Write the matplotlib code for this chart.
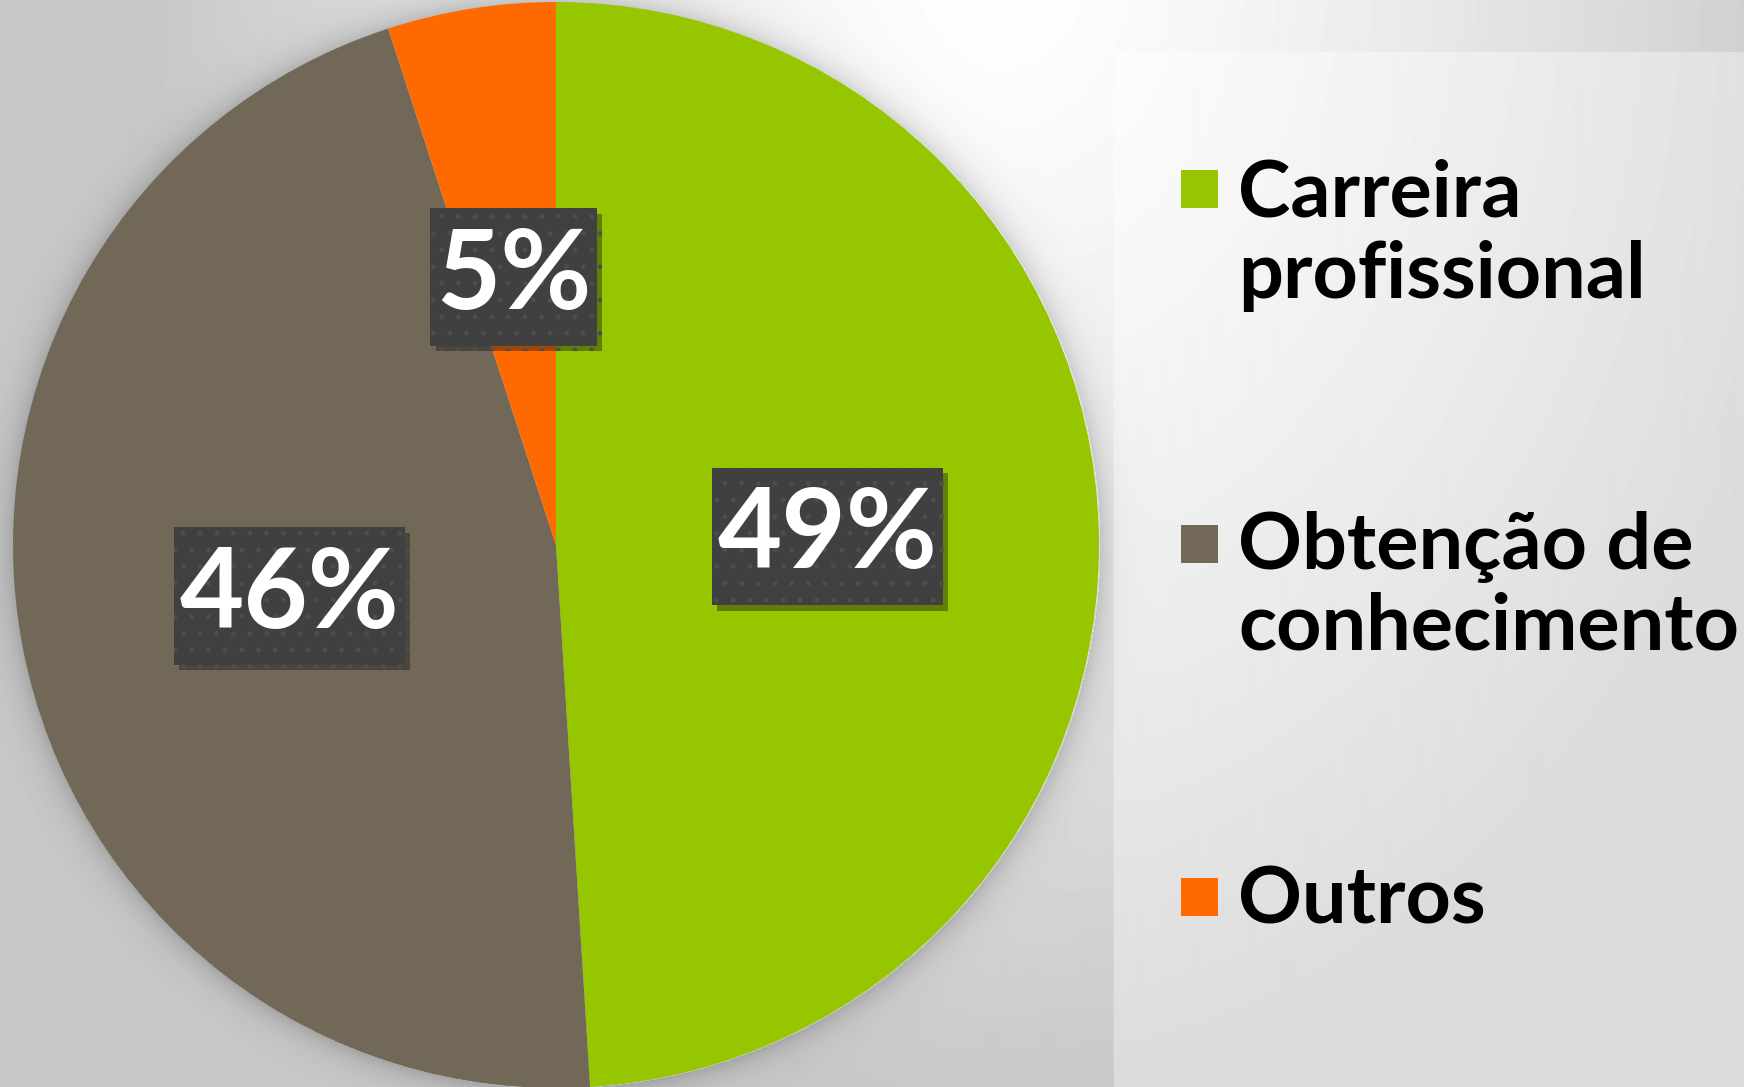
import numpy as np
import matplotlib
matplotlib.use('Agg')
import matplotlib.pyplot as plt
from matplotlib.patches import Rectangle
import matplotlib.patheffects as pe

# data
labels = ['Carreira\nprofissional', 'Obtenção de\nconhecimento', 'Outros']
values = [49, 46, 5]
colors = ['#95c600', '#716858', '#ff6a00']

W, H = 1744, 1087
fig = plt.figure(figsize=(W / 100, H / 100), dpi=100)

# background: soft radial gradient + pie shadow + legend panel
yy, xx = np.mgrid[0:H, 0:W]
r = np.sqrt(((xx - 1000) / 850) ** 2 + ((yy + 50) / 1150) ** 2)
bg = 255 - 55 * np.clip(r, 0, 1) ** 1.3
cx, cy, R = 556, 545, 543
d = np.sqrt((xx - cx) ** 2 + (yy - cy) ** 2) - R
bg = bg - np.where(d > 0, 35 * np.exp(-np.clip(d, 0, None) / 14), 0)
panel = (xx >= 1113) & (yy >= 52)
bg[panel] = bg[panel] + (255 - bg[panel]) * 0.35

bg_ax = fig.add_axes([0, 0, 1, 1])
bg_ax.imshow(bg, cmap='gray', vmin=0, vmax=255, aspect='auto', interpolation='bilinear')
bg_ax.axis('off')

# pie
ax = fig.add_axes([(cx - R) / W, (H - cy - R) / H, 2 * R / W, 2 * R / H])
wedges, texts, autotexts = ax.pie(values, colors=colors, startangle=90, counterclock=False,
                                  autopct=lambda p: f'{p:.0f}%', pctdistance=0.5,
                                  wedgeprops=dict(linewidth=0))
ax.set_xlim(-1, 1)
ax.set_ylim(-1, 1)
ax.axis('off')

for t in autotexts:
    t.set_color('white')
    t.set_fontsize(80)
    t.set_fontweight('bold')
    t.set_family('Lato')
    t.set_bbox(dict(boxstyle='square,pad=0.05', facecolor='#404040', edgecolor='#4e4e4e',
                    linewidth=0, hatch='.', mutation_aspect=3.2))
    t.get_bbox_patch().set_path_effects([pe.SimplePatchShadow(offset=(4, -4), alpha=0.4), pe.Normal()])

# legend
sq_tops = [170, 525, 878]
baselines = [298, 650, 923]  # baseline of last line
for lab, col, top, base in zip(labels, colors, sq_tops, baselines):
    fig.add_artist(Rectangle((1181 / W, 1 - (top + 38) / H), 37 / W, 38 / H,
                             facecolor=col, edgecolor='none', transform=fig.transFigure))
    fig.text(1238 / W, 1 - base / H, lab, va='baseline', ha='left', fontsize=57,
             fontweight='bold', family='Lato', color='black', linespacing=1.16)

fig.savefig('out.png', dpi=100)
plt.close()
